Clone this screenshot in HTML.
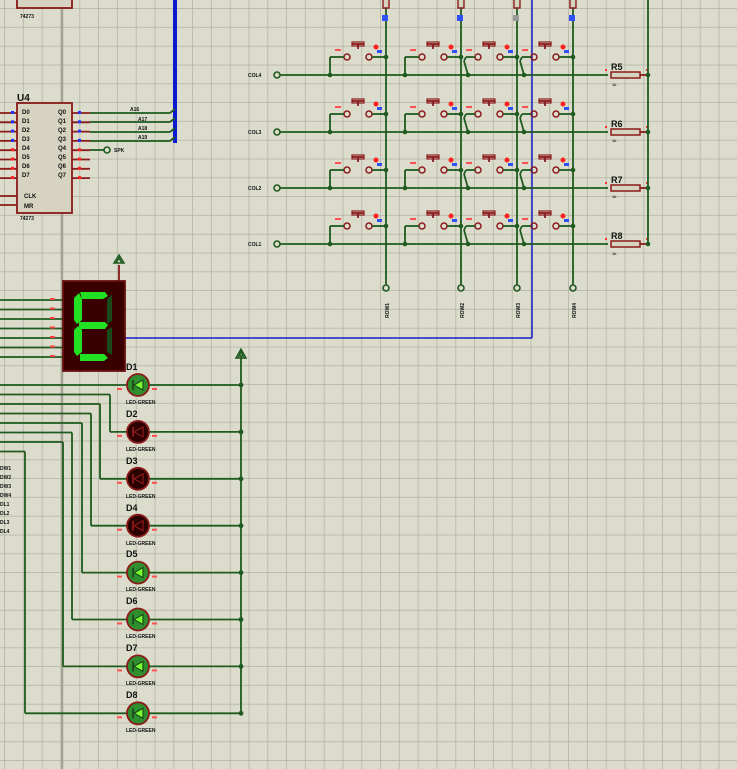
<!DOCTYPE html>
<html><head><meta charset="utf-8"><style>
html,body{margin:0;padding:0;background:#dcdccd;}
svg{display:block}
text{font-family:"Liberation Sans",sans-serif;font-weight:bold;}
</style></head><body>
<svg id="s" width="737" height="769" viewBox="0 0 737 769" xmlns="http://www.w3.org/2000/svg">
<defs>
<pattern id="g" width="18.8" height="18.8" patternUnits="userSpaceOnUse" x="5" y="9">
<path d="M18.8 0V18.8M0 18.8H18.8" stroke="#b2b2a3" stroke-width="1.5" fill="none"/>
</pattern>
</defs>
<rect width="737" height="769" fill="#dcdccd"/>
<rect width="737" height="769" fill="url(#g)"/>
<line x1="62" y1="0" x2="62" y2="769" stroke="#a4a496" stroke-width="2.5"/>
<g id="shapes"></g>
<text x="17" y="101" font-size="10" fill="#111">U4</text>
<text x="20" y="18" font-size="5" fill="#111">74273</text>
<text x="20" y="220" font-size="5" fill="#111">74273</text>
<g font-size="6" fill="#111">
<text x="22" y="114">D0</text><text x="22" y="123">D1</text><text x="22" y="132">D2</text><text x="22" y="141">D3</text>
<text x="22" y="150">D4</text><text x="22" y="159">D5</text><text x="22" y="168">D6</text><text x="22" y="177">D7</text>
<text x="24" y="198">CLK</text><text x="24" y="208">MR</text>
<text x="58" y="114">Q0</text><text x="58" y="123">Q1</text><text x="58" y="132">Q2</text><text x="58" y="141">Q3</text>
<text x="58" y="150">Q4</text><text x="58" y="159">Q5</text><text x="58" y="168">Q6</text><text x="58" y="177">Q7</text>
</g>
<g font-size="5" fill="#111">
<text x="130" y="111">A16</text><text x="138" y="121">A17</text><text x="138" y="130">A18</text><text x="138" y="139">A19</text>
<text x="114" y="152">SPK</text>
<text x="248" y="77">COL4</text><text x="248" y="134">COL3</text><text x="248" y="190">COL2</text><text x="248" y="246">COL1</text>
<text x="0" y="470">DW1</text><text x="0" y="479">DW2</text><text x="0" y="488">DW3</text><text x="0" y="497">DW4</text>
<text x="0" y="506">DL1</text><text x="0" y="515">DL2</text><text x="0" y="524">DL3</text><text x="0" y="533">DL4</text>
</g>
<g font-size="9" fill="#111">
<text x="611" y="70">R5</text><text x="611" y="127">R6</text><text x="611" y="183">R7</text><text x="611" y="239">R8</text>
</g>
<g font-size="4" fill="#333">
<text x="612" y="86">1k</text><text x="612" y="142">1k</text><text x="612" y="198">1k</text><text x="612" y="255">1k</text>
</g>
<g font-size="5" fill="#111">
<text transform="translate(389,318) rotate(-90)">ROW1</text>
<text transform="translate(464,318) rotate(-90)">ROW2</text>
<text transform="translate(520,318) rotate(-90)">ROW3</text>
<text transform="translate(576,318) rotate(-90)">ROW4</text>
</g>
<g font-size="9" fill="#111">
<text x="126" y="370">D1</text><text x="126" y="417">D2</text><text x="126" y="464">D3</text><text x="126" y="511">D4</text>
<text x="126" y="557">D5</text><text x="126" y="604">D6</text><text x="126" y="651">D7</text><text x="126" y="698">D8</text>
</g>
<g font-size="5" fill="#111">
<text x="126" y="404">LED-GREEN</text><text x="126" y="451">LED-GREEN</text><text x="126" y="498">LED-GREEN</text><text x="126" y="545">LED-GREEN</text>
<text x="126" y="591">LED-GREEN</text><text x="126" y="638">LED-GREEN</text><text x="126" y="685">LED-GREEN</text><text x="126" y="732">LED-GREEN</text>
</g>
</svg>
<script>
var G=document.getElementById('shapes'),h='';
var W='#1f5a1f',R='#8b1a1a';
function L(a,b,c,d,col,w){h+='<line x1="'+a+'" y1="'+b+'" x2="'+c+'" y2="'+d+'" stroke="'+(col||W)+'" stroke-width="'+(w||1.8)+'"/>';}
function Rc(x,y,w,hh,f,s,sw){h+='<rect x="'+x+'" y="'+y+'" width="'+w+'" height="'+hh+'" fill="'+f+'" stroke="'+(s||'none')+'" stroke-width="'+(sw||1)+'"/>';}
function C(x,y,r,f,s,sw){h+='<circle cx="'+x+'" cy="'+y+'" r="'+r+'" fill="'+f+'" stroke="'+(s||'none')+'" stroke-width="'+(sw||1)+'"/>';}
Rc(17,-5,55,13,'#d6d3c0',R,1.8);
for(var i=0;i<8;i++){var y=113+i*9.3;L(0,y,17,y,R);L(72,y,90,y,R);Rc(11,y-2,3,3,i<4?'#2030ff':'#ff2020');Rc(78,y-2,3,3,i<4?'#2030ff':'#ff2020');}
L(0,196,17,196,R);L(0,205,17,205,R);
Rc(17,103,55,110,'#d6d3c0',R,1.8);
L(175,0,175,143,'#0a1ad0',4);
[113,122,132,141].forEach(function(y){L(90,y,170,y);L(170,y,175,y-4);});
L(90,150,104,150);C(107,150,3,'none',W,1.6);
var cols=[386,461,517,573],rows=[75,132,188,244];
cols.forEach(function(x,i){L(x,8,x,285);C(x,288,3,'none',W,1.6);Rc(x-3,-4,6,12,'#d6d3c0',R,1.4);Rc(x-4,15,6,6,i==2?'#999':'#3050ff');});
L(532,0,532,338,'#1a20c8',1.5);L(125,338,532,338,'#1a20c8',1.5);
rows.forEach(function(y){L(280,y,608,y);C(277,y,3,'none',W,1.6);L(640,y,648,y,R);Rc(611,y-3,29,6,'#d6d3c0',R,1.5);C(648,y,2.3,W);Rc(605,y-6,2,2,'#ff3030');Rc(646,y-6,2,2,'#ff3030');
 cols.forEach(function(x,i){var yt=y-18;
  C(x-17,yt,3,'none',R,1.5);C(x-39,yt,3,'none',R,1.5);L(x-14,yt,x,yt);L(x-51,yt,x-42,yt);
  L(x-34,yt-13,x-22,yt-13,R);Rc(x-34,yt-15,12,4,'none',R,1.2);L(x-28,yt-13,x-28,yt-8,R);
  C(x-10,yt-10,2.5,'#ff2020');Rc(x-9,yt-7,5,3,'#3050ff');Rc(x-51,yt-8,6,2,'#ff5050');
  if(i<2){L(x-51,yt,x-56,yt);L(x-56,yt,x-56,y);C(x-56,y,2.3,W);}else{L(x-51,yt,x-53,yt+4);L(x-53,yt+4,x-49,y);C(x-49,y,2.3,W);}
  C(x,yt,2.3,W);});});
L(648,0,648,244);
for(var i=0;i<7;i++){var y=300+i*9.5;L(0,y,63,y);Rc(50,y-2,5,2,'#ff4040');}
L(119,265,119,281,R);h+='<path d="M114 263 L119 255 L124 263 Z M116 263 L119 258 L122 263" fill="none" stroke="'+W+'" stroke-width="1.5"/>';
Rc(63,281,62,90,'#3a0000','#6a1010',1.8);
var gr='#22e022';
h+='<path d="M80 292 L105 292 L108 296 L103 299 L82 299 Z" fill="'+gr+'"/>';
h+='<path d="M74 298 L79 293 L82 299 L82 320 L77 324 L74 320 Z" fill="'+gr+'"/>';
h+='<path d="M74 330 L78 326 L82 330 L82 352 L77 356 L74 352 Z" fill="'+gr+'"/>';
h+='<path d="M79 322 L105 322 L108 325 L105 329 L79 329 Z" fill="'+gr+'"/>';
h+='<path d="M80 354 L104 354 L108 358 L104 361 L80 361 Z" fill="'+gr+'"/>';
h+='<path d="M107 299 L112 295 L112 321 L107 324 Z M107 330 L112 327 L112 355 L107 352 Z" fill="#1a4a1a"/>';
L(241,355,241,713);h+='<path d="M236 358 L241 349 L246 358 Z M238 358 L241 352 L244 358" fill="none" stroke="'+W+'" stroke-width="1.5"/>';
var vx=[null,110,100,91,82,72,63,25];
for(var i=0;i<8;i++){var y=385+i*46.9;var on=!(i>=1&&i<=3);
 if(i==0){L(0,y,127,y);}else{var sy=385+i*9.5;L(0,sy,vx[i],sy);L(vx[i],sy,vx[i],y);L(vx[i],y,127,y);}
 L(149,y,241,y);C(241,y,2.4,W);
 C(138,y,11,on?'#2f8f2f':'#2a0000',R,1.8);
 h+='<path d="M143 '+(y-5)+' L134 '+y+' L143 '+(y+5)+' Z" fill="'+(on?'#7aff30':'none')+'" stroke="'+(on?'#1a4a1a':R)+'" stroke-width="1.2"/>';
 L(133,y-5,133,y+5,on?'#1a4a1a':R);
 Rc(117,y+3,5,2,'#ff5050');Rc(152,y+3,5,2,'#ff5050');}
G.innerHTML=h;
</script>
</body></html>
